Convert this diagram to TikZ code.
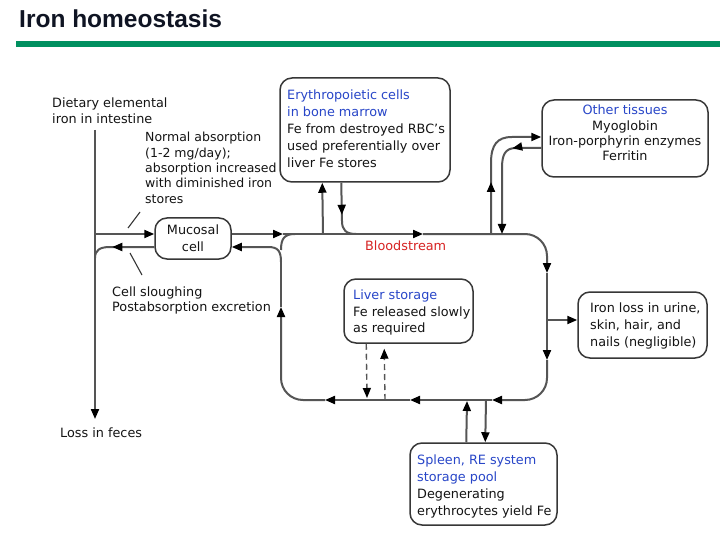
\documentclass[tikz,border=0pt]{standalone}
\usepackage{fontspec}
\setmainfont{DejaVu Sans}
\newfontfamily\titlefont{Liberation Sans}
\usetikzlibrary{arrows.meta,decorations.markings,calc}
\definecolor{fblue}{RGB}{40,70,200}
\definecolor{fred}{RGB}{215,35,35}
\definecolor{bargreen}{RGB}{0,144,96}
\definecolor{linegray}{RGB}{85,85,85}
\definecolor{boxgray}{RGB}{55,55,55}
\definecolor{txtc}{RGB}{20,20,20}
\definecolor{titlec}{RGB}{15,20,35}
\tikzset{
  bigtip/.tip={Triangle[length=10pt,width=8pt,color=black]},
  flow/.style={draw=linegray, line width=2pt},
  dashflow/.style={draw=linegray, line width=1.4pt, dash pattern=on 6pt off 4pt},
  lead/.style={draw=boxgray, line width=1.1pt},
  endarr/.style={-{bigtip}},
  roundbox/.style={draw=boxgray, line width=1.5pt, rounded corners=12pt, inner sep=0pt},
  lbl/.style={inner sep=0pt, align=left, text=txtc, font=\fontsize{12.8}{16}\selectfont},
}
\begin{document}
\begin{tikzpicture}[x=1pt,y=-1pt]
\useasboundingbox (0,0) rectangle (720,540);
\fill[white] (0,0) rectangle (720,540);
\node[anchor=north west, inner sep=0pt, text=titlec, font=\titlefont\bfseries\fontsize{24.5}{28}\selectfont] (title) at (19,10) {Iron homeostasis};
\fill[bargreen] (16,41) rectangle (720,47);

% boxes
\node[roundbox, minimum width=76pt, minimum height=41pt] (mucosal) at (193,238.5) {};
\node[roundbox, minimum width=170pt, minimum height=104pt] (erythro) at (365,130) {};
\node[roundbox, minimum width=166pt, minimum height=77pt] (other) at (625,138.5) {};
\node[roundbox, minimum width=129pt, minimum height=64pt] (liver) at (408.5,311) {};
\node[roundbox, minimum width=129pt, minimum height=66pt] (ironloss) at (642.5,325) {};
\node[roundbox, minimum width=147pt, minimum height=82pt] (spleen) at (483.5,484) {};

% texts
\node[lbl, anchor=north, align=center, font=\fontsize{12.8}{17}\selectfont] (mucosalT) at (193,225) {Mucosal\\cell};
\node[lbl, anchor=north west, font=\fontsize{12.8}{17}\selectfont] (erythroT) at (287,90) {\textcolor{fblue}{Erythropoietic cells}\\\textcolor{fblue}{in bone marrow}\\Fe from destroyed RBC's\\used preferentially over\\liver Fe stores};
\node[lbl, anchor=north, align=center, font=\fontsize{12.8}{15.3}\selectfont] (otherT) at (625,105) {\textcolor{fblue}{Other tissues}\\Myoglobin\\Iron-porphyrin enzymes\\Ferritin};
\node[lbl, anchor=north west, font=\fontsize{12.8}{16.5}\selectfont] (liverT) at (353,290) {\textcolor{fblue}{Liver storage}\\Fe released slowly\\as required};
\node[lbl, anchor=north west, font=\fontsize{12.8}{17}\selectfont] (ironlossT) at (590,303) {Iron loss in urine,\\skin, hair, and\\nails (negligible)};
\node[lbl, anchor=north west, font=\fontsize{12.8}{16.7}\selectfont] (spleenT) at (417,455) {\textcolor{fblue}{Spleen, RE system}\\\textcolor{fblue}{storage pool}\\Degenerating\\erythrocytes yield Fe};
\node[lbl, anchor=north west, text=fred] (bloodT) at (365,241) {Bloodstream};
\node[lbl, anchor=north west] (dietT) at (52,98) {Dietary elemental\\iron in intestine};
\node[lbl, anchor=north west, font=\fontsize{12.5}{15.4}\selectfont] (normT) at (145,132) {Normal absorption\\(1-2 mg/day);\\absorption increased\\with diminished iron\\stores};
\node[lbl, anchor=north west, font=\fontsize{12.8}{15}\selectfont] (slouT) at (112,287) {Cell sloughing\\Postabsorption excretion};
\node[lbl, anchor=north west] (fecesT) at (60,428) {Loss in feces};

% coordinates
\coordinate (dtop) at (95,130);
\coordinate (dbot) at (95,419);
\coordinate (absL) at (95,234);
\coordinate (slJ) at (95,258);
\coordinate (bsTL) at (283,234);
\coordinate (bsT) at (423,234);
\coordinate (bsTR) at (547,234);
\coordinate (bsR1) at (547,273);
\coordinate (bsR2) at (547,360);
\coordinate (bsBR) at (547,400);
\coordinate (bsB1) at (492,400);
\coordinate (bsB2) at (410,400);
\coordinate (bsB3) at (325,400);
\coordinate (bsBL) at (281,400);
\coordinate (bsL) at (281,307);
\coordinate (bsLT) at (281,262);

% dietary line
\draw[flow,endarr] (dtop) -- (dbot);
\draw[flow,endarr] (absL) -- ($(mucosal.west)+(0,-4.5)$);
\draw[flow, postaction=decorate, decoration={markings, mark=at position 42pt with {\arrow{bigtip}}}] ($(mucosal.west)+(0,8.5)$) -- (110,247) .. controls (100,247) and (95,250) .. (slJ);
\draw[lead] (140,212) -- (128,228);
\draw[lead] (130,253) -- (142,275);

% mucosal to bloodstream
\draw[flow,endarr] ($(mucosal.east)+(0,-4.5)$) -- (bsTL);

% bloodstream loop
\draw[flow,endarr] (bsTL) -- (bsT);
\draw[flow,endarr,rounded corners=22pt] (bsT) -- (bsTR) -- (bsR1);
\draw[flow,endarr] (bsR1) -- (bsR2);
\draw[flow,endarr,rounded corners=22pt] (bsR2) -- (bsBR) -- (bsB1);
\draw[flow,endarr] (bsB1) -- (bsB2);
\draw[flow,endarr] (bsB2) -- (bsB3);
\draw[flow,endarr,rounded corners=22pt] (bsB3) -- (bsBL) -- (bsL);
\draw[flow] (bsL) -- (bsLT);
\draw[flow] (281,250) .. controls (281,239) and (284,234) .. (295,234);
\draw[flow,endarr] (bsLT) .. controls (281,251) and (278,247) .. (268,247) -- ($(mucosal.east)+(0,8.5)$);

% erythro
\draw[flow,endarr] (323,234) -- ($(erythro.south west)+(43,0)$);
\draw[flow, postaction=decorate, decoration={markings, mark=at position 32pt with {\arrow{bigtip}}}] ($(erythro.south west)+(62,0)$) -- (342,221) .. controls (342,230) and (346,234) .. (356,234);

% other tissues
\draw[flow, endarr, postaction=decorate, decoration={markings, mark=at position 52pt with {\arrow{bigtip}}}] (491,234) -- (491,163) .. controls (491,145) and (497,137) .. (512,137) -- ($(other.west)+(0,-1.5)$);
\draw[flow, endarr, postaction=decorate, decoration={markings, mark=at position 29pt with {\arrow{bigtip}}}] ($(other.west)+(0,9.5)$) -- (516,148) .. controls (505,148) and (502,155) .. (502,168) -- (502,234);

% iron loss
\draw[flow,endarr] (547,320) -- ($(ironloss.west)+(0,-5)$);

% liver
\draw[dashflow,endarr] ($(liver.south west)+(23,0)$) -- (367,398);
\draw[dashflow,endarr] (385,400) -- ($(liver.south west)+(41,5)$);

% spleen
\draw[flow,endarr] ($(spleen.north west)+(57,0)$) -- (467,401);
\draw[flow,endarr] (486,400) -- ($(spleen.north west)+(76,0)$);
\end{tikzpicture}
\end{document}
